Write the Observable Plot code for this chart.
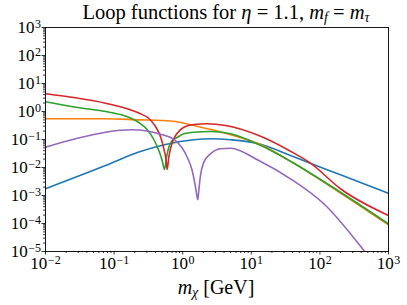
<!DOCTYPE html>
<html><head><meta charset="utf-8">
<script src="https://cdn.jsdelivr.net/npm/d3@7"></script>
<script src="https://cdn.jsdelivr.net/npm/@observablehq/plot@0.6"></script>
<style>
body{margin:0;background:#fff;}
#chart{width:407px;height:305px;}
svg text{font-family:"Liberation Serif",serif;}
</style></head><body><div id="chart"></div>
<script>
// ---- data (m_chi in GeV, loop-function value) ----
const massBlue = [0.01, 0.075, 0.229, 0.562, 1.445, 2.541, 5.012, 12.88, 37.15, 72.4, 199.5, 1000];
const loopBlue = [0.00174, 0.0117, 0.0355, 0.0661, 0.0977, 0.106, 0.0977, 0.0708, 0.0269, 0.0141, 0.0055, 0.0012];

const massOrange = [0.01, 0.075, 0.243, 0.479, 0.785, 1.445, 4.207, 5.012, 12.88, 37.24, 199.5, 1000];
const loopOrange = [0.55, 0.55, 0.501, 0.479, 0.437, 0.316, 0.168, 0.148, 0.0700, 0.0166, 0.00123, 0.0000891];

const massGreen = [0.01, 0.0274, 0.075, 0.131, 0.173, 0.229, 0.303, 0.379, 0.449, 0.502, 0.543, 0.581, 0.627, 0.703, 0.832, 1.038, 1.452, 2.541, 4.977, 12.85, 37.24, 199.5, 1000];
const loopGreen = [2.218, 1.426, 1.0, 0.75, 0.586, 0.405, 0.228, 0.1, 0.0405, 0.0178, 0.00849, 0.0233, 0.0531, 0.0920, 0.118, 0.160, 0.182, 0.193, 0.160, 0.0662, 0.0168, 0.00131, 0.0000975];

const massRed = [0.01, 0.0274, 0.075, 0.131, 0.229, 0.321, 0.401, 0.474, 0.530, 0.574, 0.594, 0.627, 0.664, 0.741, 0.832, 1.038, 1.452, 2.275, 4.207, 12.85, 37.24, 72.9, 199.5, 1000];
const loopRed = [4.285, 3.083, 1.977, 1.426, 0.883, 0.562, 0.291, 0.128, 0.0477, 0.0178, 0.00849, 0.0233, 0.0466, 0.106, 0.168, 0.275, 0.344, 0.364, 0.316, 0.139, 0.0382, 0.0143, 0.00174, 0.000193];

const massPurple = [0.01, 0.0274, 0.075, 0.184, 0.449, 0.785, 1.164, 1.374, 1.538, 1.626, 1.660, 1.718, 1.816, 2.032, 2.541, 3.556, 4.977, 12.85, 37.24, 114.0, 436.5, 645.7];
const loopPurple = [0.0531, 0.106, 0.182, 0.222, 0.160, 0.0920, 0.0233, 0.00782, 0.00198, 0.000869, 0.000701, 0.00151, 0.00518, 0.0155, 0.0308, 0.0466, 0.0489, 0.0178, 0.00394, 0.000506, 0.0000109, 0.00000316];

const seriesColors = ["#1f77b4", "#ff7f0e", "#2ca02c", "#d62728", "#9467bd"];

const xTickValues = [1e-2, 1e-1, 1, 10, 100, 1000];
const xTickExponents = ["−2", "−1", "0", "1", "2", "3"];
const yTickValues = [1e-5, 1e-4, 1e-3, 1e-2, 1e-1, 1, 10, 100, 1000];
const yTickExponents = ["−5", "−4", "−3", "−2", "−1", "0", "1", "2", "3"];

// ---- build tables ----
const series = [
  [massBlue, loopBlue], [massOrange, loopOrange], [massGreen, loopGreen],
  [massRed, loopRed], [massPurple, loopPurple]
].map(([ms, vs]) => ms.map((m, i) => ({m, v: vs[i]})));

function minorTicks(majors) {
  const out = [];
  for (let i = 0; i < majors.length - 1; i++)
    for (let k = 2; k <= 9; k++) out.push(k * majors[i]);
  return out;
}
const xLabel = new Map(xTickValues.map((v, i) => [v, "10^" + xTickExponents[i]]));
const yLabel = new Map(yTickValues.map((v, i) => [v, "10^" + yTickExponents[i]]));

const plot = Plot.plot({
  width: 407,
  height: 305,
  marginTop: 27,
  marginLeft: 45,
  marginRight: 19,
  marginBottom: 54,
  style: {fontFamily: "Liberation Serif", fontSize: "17px", background: "#fff", color: "black"},
  x: {type: "log", domain: [1e-2, 1e3]},
  y: {type: "log", domain: [1e-5, 1e3]},
  marks: [
    ...series.map((d, i) => Plot.line(d, {x: "m", y: "v", stroke: seriesColors[i], strokeWidth: 1.6, curve: "monotone-x", clip: true})),
    Plot.axisX({ticks: minorTicks(xTickValues), tickSize: 2, tickFormat: () => "", label: null, strokeWidth: 0.8}),
    Plot.axisY({ticks: minorTicks(yTickValues), tickSize: 2, tickFormat: () => "", label: null, strokeWidth: 0.8}),
    Plot.axisX({ticks: xTickValues, tickSize: 3.5, tickPadding: 2, tickFormat: d => xLabel.get(d), label: null, fontSize: 17, strokeWidth: 0.8}),
    Plot.axisY({ticks: yTickValues, tickSize: 3.5, tickPadding: 1, tickFormat: d => yLabel.get(d), label: null, fontSize: 17, strokeWidth: 0.8}),
    Plot.frame({stroke: "black", strokeWidth: 0.9})
  ]
});
document.getElementById("chart").appendChild(plot);

// superscript exponents in tick labels
d3.select(plot).selectAll("text").each(function() {
  const t = this.textContent;
  if (/^10\^/.test(t)) {
    const exp = t.slice(3);
    const sel = d3.select(this);
    sel.text("");
    sel.append("tspan").text("10");
    sel.append("tspan").attr("dy", "-0.42em").attr("font-size", "12px").attr("dx", "0.5").text(exp);
  }
});

const svg = d3.select(plot);
// title
const title = svg.append("text").attr("x", 226).attr("y", 19).attr("text-anchor", "middle")
  .attr("font-size", "20.5px").attr("fill", "black");
title.append("tspan").text("Loop functions for ");
title.append("tspan").attr("font-style", "italic").text("η");
title.append("tspan").text(" = 1.1, ");
title.append("tspan").attr("font-style", "italic").text("m");
title.append("tspan").attr("font-style", "italic").attr("font-size", "14px").attr("dy", "3").text("f");
title.append("tspan").attr("dy", "-3").text(" = ");
title.append("tspan").attr("font-style", "italic").text("m");
title.append("tspan").attr("font-style", "italic").attr("font-size", "14px").attr("dy", "3").text("τ");

// x-axis label
const xl = svg.append("text").attr("x", 216).attr("y", 294).attr("text-anchor", "middle")
  .attr("font-size", "20px").attr("fill", "black");
xl.append("tspan").attr("font-style", "italic").text("m");
xl.append("tspan").attr("font-style", "italic").attr("font-size", "14px").attr("dy", "3").text("χ");
xl.append("tspan").attr("dy", "-3").text(" [GeV]");
</script>
</body></html>
